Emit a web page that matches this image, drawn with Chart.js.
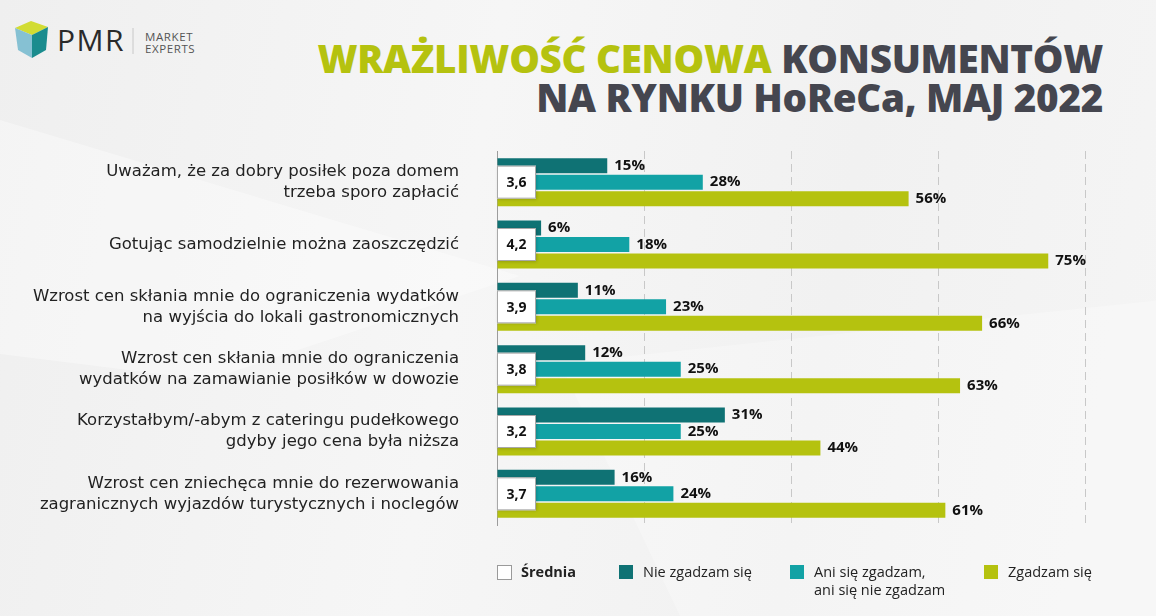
<!DOCTYPE html>
<html>
<head>
<meta charset="utf-8">
<script src="https://cdn.jsdelivr.net/npm/chart.js@4"></script>
<style>
  html, body { margin:0; padding:0; }
  body { width:1156px; height:616px; position:relative; overflow:hidden;
    background: linear-gradient(100deg, #efefef 0%, #f6f6f6 40%, #f1f1f1 70%, #f5f5f5 100%);
    font-family: "Open Sans", sans-serif; }
  .poly { position:absolute; background:#ffffff; opacity:0.35; }
  #chart { position:absolute; left:0; top:0; }
  .title { position:absolute; right:53px; font-weight:800; font-size:38.6px; color:#45464f; white-space:nowrap; letter-spacing:-0.3px; }
  .title .g { color:#b5c20f; }
  .legend { position:absolute; top:563px; font-size:14.5px; color:#222; line-height:18px; }
  .legend .sw { position:absolute; left:0; top:2px; width:14px; height:14px; }
  .legend .tx { position:absolute; white-space:pre; }
</style>
</head>
<body>
<div class="poly" style="left:0;top:120px;width:520px;height:260px;clip-path:polygon(0 0,100% 60%,40% 100%,0 90%);"></div>
<div class="poly" style="left:560px;top:300px;width:600px;height:316px;clip-path:polygon(0 20%,100% 0,100% 100%,20% 100%);opacity:0.25"></div>

<svg style="position:absolute;left:0;top:0" width="220" height="80">
  <polygon points="15,28 31,21 48,27 32,35" fill="#d2dc33"/>
  <polygon points="15,28 32,35 32,58 18,50" fill="#86c1d3"/>
  <polygon points="32,35 48,27 46,50 32,58" fill="#1a8c8e"/>
  <text x="57" y="51" font-family="Open Sans" font-size="30" fill="#2a2a2a" letter-spacing="1.5">PMR</text>
  <line x1="133" y1="28" x2="133" y2="54" stroke="#c8c8c8" stroke-width="1"/>
  <text x="145" y="41" font-family="Open Sans" font-size="11.5" fill="#555" letter-spacing="0.6">MARKET</text>
  <text x="145" y="53" font-family="Open Sans" font-size="11.5" fill="#555" letter-spacing="0.6">EXPERTS</text>
</svg>

<div class="title" style="top:32px;"><span class="g">WRAŻLIWOŚĆ CENOWA</span> KONSUMENTÓW</div>
<div class="title" style="top:71px;">NA RYNKU HoReCa, MAJ 2022</div>

<canvas id="chart" width="1156" height="616"></canvas>
<div id="legend"></div>

<script>
const categories = [
  ["Uważam, że za dobry posiłek poza domem", "trzeba sporo zapłacić"],
  ["Gotując samodzielnie można zaoszczędzić"],
  ["Wzrost cen skłania mnie do ograniczenia wydatków", "na wyjścia do lokali gastronomicznych"],
  ["Wzrost cen skłania mnie do ograniczenia", "wydatków na zamawianie posiłków w dowozie"],
  ["Korzystałbym/-abym z cateringu pudełkowego", "gdyby jego cena była niższa"],
  ["Wzrost cen zniechęca mnie do rezerwowania", "zagranicznych wyjazdów turystycznych i noclegów"]
];
const srednia = [3.6, 4.2, 3.9, 3.8, 3.2, 3.7];
const nieZgadzam = [15, 6, 11, 12, 31, 16];
const aniAni = [28, 18, 23, 25, 25, 24];
const zgadzam = [56, 75, 66, 63, 44, 61];
const xTicks = [0, 20, 40, 60, 80];

const seriesNames = ["Średnia", "Nie zgadzam się", "Ani się zgadzam,\nani się nie zgadzam", "Zgadzam się"];
const colors = ["#ffffff", "#0f7274", "#12a2a5", "#b5c20f"];

// legend (HTML)
const legendX = [497, 619, 790, 984];
const leg = document.getElementById('legend');
seriesNames.forEach((n, i) => {
  const d = document.createElement('div');
  d.className = 'legend';
  d.style.left = legendX[i] + 'px';
  const sw = document.createElement('div');
  sw.className = 'sw';
  sw.style.background = colors[i];
  if (i === 0) { sw.style.border = '1px solid #9a9a9a'; sw.style.width='13px'; sw.style.height='13px'; }
  const tx = document.createElement('div');
  tx.className = 'tx';
  tx.style.left = '24px';
  tx.textContent = n;
  if (i === 0) tx.style.fontWeight = '700';
  d.appendChild(sw); d.appendChild(tx);
  leg.appendChild(d);
});

const valueLabels = {
  id: 'valueLabels',
  afterDatasetsDraw(chart) {
    const ctx = chart.ctx;
    ctx.save();
    ctx.font = 'bold 15px "Open Sans"';
    ctx.fillStyle = '#111';
    ctx.textAlign = 'left';
    ctx.textBaseline = 'middle';
    chart.data.datasets.forEach((ds, di) => {
      const meta = chart.getDatasetMeta(di);
      meta.data.forEach((bar, i) => {
        ctx.fillText(ds.data[i] + '%', bar.x + 7, bar.y);
      });
    });
    // average boxes
    const xs = chart.scales.x, ys = chart.scales.y;
    srednia.forEach((v, i) => {
      const y = ys.getPixelForValue(i);
      const x0 = xs.getPixelForValue(0);
      const w = 39, h = 33;
      ctx.save();
      ctx.shadowColor = 'rgba(0,0,0,0.18)';
      ctx.shadowBlur = 3;
      ctx.shadowOffsetX = 1; ctx.shadowOffsetY = 1;
      ctx.fillStyle = '#ffffff';
      ctx.fillRect(x0, y - h / 2, w, h);
      ctx.restore();
      ctx.strokeStyle = '#a8a8a8';
      ctx.lineWidth = 1;
      ctx.strokeRect(x0 + 0.5, y - h / 2 + 0.5, w - 1, h - 1);
      ctx.fillStyle = '#111';
      ctx.font = 'bold 14px "Open Sans"';
      ctx.textAlign = 'center';
      ctx.fillText(v.toFixed(1).replace('.', ','), x0 + w / 2, y + 1);
    });
    ctx.restore();
  }
};

new Chart(document.getElementById('chart'), {
  type: 'bar',
  data: {
    labels: categories,
    datasets: [
      { label: seriesNames[1], data: nieZgadzam, backgroundColor: colors[1] },
      { label: seriesNames[2], data: aniAni, backgroundColor: colors[2] },
      { label: seriesNames[3], data: zgadzam, backgroundColor: colors[3] }
    ]
  },
  options: {
    indexAxis: 'y',
    responsive: false,
    animation: false,
    devicePixelRatio: 1,
    categoryPercentage: 0.795,
    barPercentage: 0.91,
    layout: { padding: { left: 0, right: 71, top: 151, bottom: 91 } },
    plugins: { legend: { display: false }, tooltip: { enabled: false } },
    scales: {
      x: {
        min: xTicks[0], max: xTicks[xTicks.length - 1],
        afterBuildTicks(s) { s.ticks = xTicks.map(v => ({ value: v })); },
        afterFit(s) { s.height = 0; },
        ticks: { display: false },
        grid: {
          drawTicks: false,
          color: c => (c.tick && c.tick.value === 0) ? 'rgba(0,0,0,0)' : '#c8c8c8',
          lineWidth: 1
        },
        border: { display: false, dash: [8, 5] }
      },
      y: {
        afterFit(s) { s.width = 497; },
        grid: { display: false },
        border: { display: true, color: '#9c9c9c', width: 1 },
        ticks: {
          padding: 30,
          color: '#222',
          font: { family: 'DejaVu Sans', size: 16.5, lineHeight: 1.28 },
          crossAlign: 'near'
        }
      }
    }
  },
  plugins: [valueLabels]
});
</script>
</body>
</html>
